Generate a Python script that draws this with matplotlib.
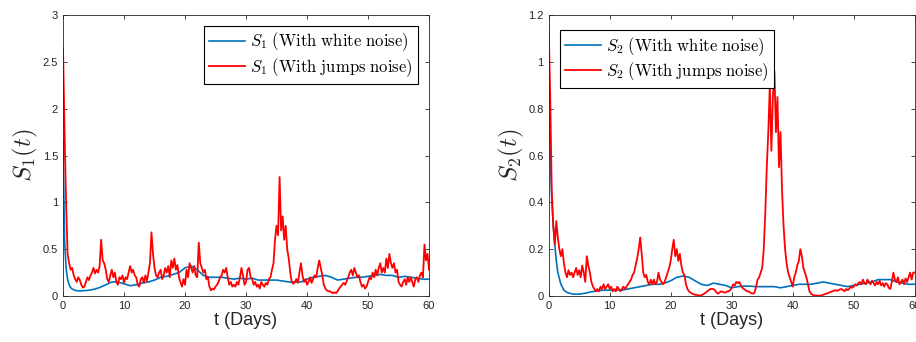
import numpy as np
import matplotlib
matplotlib.use('Agg')
import matplotlib.pyplot as plt
from matplotlib.ticker import FuncFormatter

plt.rcParams['mathtext.fontset'] = 'cm'
plt.rcParams['font.family'] = ['Liberation Sans', 'DejaVu Sans']

# time grid of the jump-noise paths (0.25 day step)
t_jump = np.arange(0, 60.001, 0.25)
# time points of the white-noise paths
t_white = [0, 0.25, 0.5, 0.75, 1, 1.25, 1.5, 2, 2.5] + list(range(3, 61))

# S1 with jumps noise, 4 values per day
s1_jump = [
    2.65, 1.75, 1.0, 0.45,   0.35, 0.28, 0.3, 0.22,   0.18, 0.15, 0.2, 0.17,
    0.12, 0.09, 0.1, 0.15,   0.2, 0.17, 0.22, 0.25,   0.3, 0.24, 0.28, 0.25,
    0.32, 0.6, 0.38, 0.35,   0.28, 0.18, 0.15, 0.22,  0.28, 0.2, 0.25, 0.15,
    0.12, 0.2, 0.18, 0.22,   0.14, 0.2, 0.18, 0.25,   0.32, 0.25, 0.28, 0.22,
    0.2, 0.12, 0.1, 0.18,    0.2, 0.14, 0.22, 0.16,   0.25, 0.35, 0.68, 0.45,
    0.3, 0.22, 0.2, 0.25,    0.28, 0.18, 0.22, 0.3,   0.25, 0.32, 0.2, 0.38,
    0.3, 0.4, 0.28, 0.33,    0.2, 0.15, 0.1, 0.18,    0.12, 0.28, 0.2, 0.35,
    0.3, 0.25, 0.32, 0.22,   0.2, 0.57, 0.35, 0.3,    0.25, 0.28, 0.18, 0.2,
    0.1, 0.06, 0.08, 0.07,   0.1, 0.12, 0.15, 0.2,    0.22, 0.28, 0.25, 0.3,
    0.2, 0.12, 0.15, 0.1,    0.12, 0.1, 0.15, 0.12,   0.2, 0.3, 0.22, 0.12,
    0.15, 0.28, 0.3, 0.2,    0.18, 0.12, 0.15, 0.1,   0.12, 0.08, 0.15, 0.12,
    0.1, 0.14, 0.12, 0.18,   0.2, 0.28, 0.35, 0.6,    0.75, 0.65, 1.27, 0.7,
    0.85, 0.6, 0.75, 0.5,    0.4, 0.25, 0.15, 0.13,   0.15, 0.18, 0.14, 0.25,
    0.35, 0.22, 0.15, 0.18,  0.12, 0.15, 0.2, 0.14,   0.18, 0.22, 0.2, 0.3,
    0.38, 0.3, 0.22, 0.12,   0.08, 0.06, 0.05, 0.05,  0.04, 0.03, 0.04, 0.03,
    0.05, 0.08, 0.1, 0.12,   0.14, 0.12, 0.16, 0.2,   0.25, 0.28, 0.22, 0.3,
    0.25, 0.2, 0.22, 0.15,   0.1, 0.12, 0.08, 0.1,    0.15, 0.2, 0.18, 0.25,
    0.2, 0.28, 0.22, 0.3,    0.35, 0.25, 0.3, 0.25,   0.4, 0.3, 0.45, 0.35,
    0.3, 0.35, 0.25, 0.28,   0.15, 0.12, 0.1, 0.15,   0.18, 0.12, 0.2, 0.15,
    0.2, 0.15, 0.1, 0.18,    0.2, 0.15, 0.22, 0.25,   0.2, 0.55, 0.38, 0.45,
    0.28,
]

# S2 with jumps noise, 4 values per day
s2_jump = [
    1.15, 0.85, 0.45, 0.3,      0.22, 0.32, 0.25, 0.2,      0.17, 0.2, 0.14, 0.1,
    0.08, 0.11, 0.09, 0.1,      0.08, 0.1, 0.12, 0.09,      0.11, 0.08, 0.13, 0.1,
    0.06, 0.17, 0.13, 0.1,      0.06, 0.04, 0.03, 0.02,     0.03, 0.02, 0.04, 0.03,
    0.05, 0.03, 0.04, 0.05,     0.03, 0.04, 0.02, 0.03,     0.02, 0.04, 0.03, 0.02,
    0.03, 0.04, 0.03, 0.04,     0.05, 0.06, 0.07, 0.09,     0.1, 0.13, 0.16, 0.2,
    0.25, 0.18, 0.1, 0.08,      0.09, 0.06, 0.05, 0.07,     0.05, 0.07, 0.05, 0.06,
    0.1, 0.07, 0.06, 0.05,      0.06, 0.08, 0.1, 0.12,      0.15, 0.2, 0.24, 0.17,
    0.2, 0.15, 0.18, 0.13,      0.1, 0.09, 0.05, 0.03,      0.02, 0.015, 0.01, 0.008,
    0.005, 0.005, 0.003, 0.002, 0.003, 0.006, 0.01, 0.015,  0.02, 0.025, 0.03, 0.03,
    0.03, 0.025, 0.015, 0.01,   0.015, 0.02, 0.018, 0.015,  0.015, 0.02, 0.02, 0.025,
    0.035, 0.05, 0.045, 0.06,   0.055, 0.06, 0.045, 0.035,  0.03, 0.025, 0.02, 0.02,
    0.015, 0.012, 0.01, 0.015,  0.04, 0.07, 0.08, 0.1,      0.12, 0.2, 0.35, 0.55,
    0.7, 0.9, 0.62, 0.85,       0.96, 0.7, 0.85, 0.55,      0.7, 0.45, 0.3, 0.2,
    0.14, 0.1, 0.08, 0.06,      0.04, 0.08, 0.1, 0.13,      0.15, 0.2, 0.17, 0.12,
    0.1, 0.08, 0.05, 0.02,      0.01, 0.005, 0.003, 0.002,  0.002, 0.001, 0.002, 0.003,
    0.005, 0.008, 0.01, 0.012,  0.015, 0.018, 0.02, 0.022,  0.025, 0.022, 0.025, 0.028,
    0.03, 0.025, 0.02, 0.03,    0.025, 0.03, 0.04, 0.035,   0.04, 0.05, 0.045, 0.055,
    0.06, 0.05, 0.07, 0.055,    0.05, 0.07, 0.06, 0.05,     0.065, 0.055, 0.045, 0.06,
    0.05, 0.065, 0.045, 0.055,  0.04, 0.055, 0.05, 0.035,   0.03, 0.06, 0.1, 0.07,
    0.06, 0.08, 0.05, 0.06,     0.07, 0.05, 0.075, 0.06,    0.08, 0.1, 0.07, 0.1,
    0.1,
]

# white noise paths
s1_white = [
    1.65, 0.6, 0.3, 0.18, 0.12, 0.09, 0.075, 0.06, 0.055,
    0.055, 0.06, 0.07, 0.09, 0.12, 0.15, 0.15, 0.13, 0.11, 0.12,
    0.14, 0.15, 0.17, 0.2, 0.21, 0.23, 0.25, 0.3, 0.32, 0.28,
    0.22, 0.2, 0.2, 0.2, 0.19, 0.18, 0.19, 0.18, 0.19, 0.17,
    0.17, 0.17, 0.17, 0.16, 0.15, 0.15, 0.15, 0.18, 0.2, 0.21,
    0.22, 0.2, 0.17, 0.18, 0.19, 0.2, 0.2, 0.21, 0.22, 0.23,
    0.22, 0.22, 0.2, 0.21, 0.2, 0.19, 0.18, 0.18,
]
s2_white = [
    0.87, 0.6, 0.42, 0.3, 0.22, 0.15, 0.1, 0.05, 0.025,
    0.015, 0.008, 0.008, 0.012, 0.018, 0.022, 0.025, 0.025, 0.025, 0.025,
    0.03, 0.035, 0.04, 0.045, 0.05, 0.05, 0.055, 0.065, 0.08, 0.085,
    0.08, 0.065, 0.05, 0.045, 0.055, 0.05, 0.045, 0.035, 0.04, 0.042,
    0.042, 0.04, 0.04, 0.04, 0.04, 0.035, 0.04, 0.045, 0.05, 0.05,
    0.05, 0.055, 0.06, 0.055, 0.05, 0.045, 0.04, 0.045, 0.05, 0.055,
    0.06, 0.07, 0.07, 0.07, 0.06, 0.055, 0.05, 0.05,
]

mat_blue = '#0072BD'
axis_col = '#262626'

fig = plt.figure(figsize=(9.16, 3.42), dpi=100)
ax1 = fig.add_axes([0.0688, 0.1345, 0.3996, 0.8216])
ax2 = fig.add_axes([0.599, 0.1345, 0.3996, 0.8216])

panels = [
    (ax1, s1_white, s1_jump, '1', 3.0, np.arange(0, 3.01, 0.5), 'upper right', (0.97, 0.962)),
    (ax2, s2_white, s2_jump, '2', 1.2, np.arange(0, 1.21, 0.2), 'upper left', (0.03, 0.947)),
]

for ax, white, jump, k, ymax, yt, loc, anchor in panels:
    ax.plot(t_white, white, color=mat_blue, lw=1.2,
            label=r'$S_%s\ \mathrm{(With\ white\ noise)}$' % k)
    ax.plot(t_jump, jump, color='red', lw=1.3,
            label=r'$S_%s\ \mathrm{(With\ jumps\ noise)}$' % k)
    ax.set_xlim(0, 60)
    ax.set_ylim(0, ymax)
    ax.set_xticks(np.arange(0, 61, 10))
    ax.set_yticks(yt)
    ax.yaxis.set_major_formatter(FuncFormatter(lambda v, p: '%g' % round(v, 2)))
    ax.tick_params(direction='in', top=True, right=True, labelsize=8,
                   colors=axis_col, length=3, width=0.6)
    for sp in ax.spines.values():
        sp.set_color(axis_col)
        sp.set_linewidth(0.6)
    ax.set_xlabel('t (Days)', fontsize=13, color=axis_col, labelpad=1)
    ax.set_ylabel(r'$S_%s(t)$' % k, fontsize=18, color=axis_col, labelpad=2)
    leg = ax.legend(loc=loc, bbox_to_anchor=anchor, fontsize=12, fancybox=False,
                    framealpha=1, edgecolor='black', handlelength=2.2,
                    handletextpad=0.3, borderpad=0.3, labelspacing=0.15,
                    borderaxespad=0)
    leg.get_frame().set_linewidth(0.8)

fig.savefig('out.png', dpi=100)
